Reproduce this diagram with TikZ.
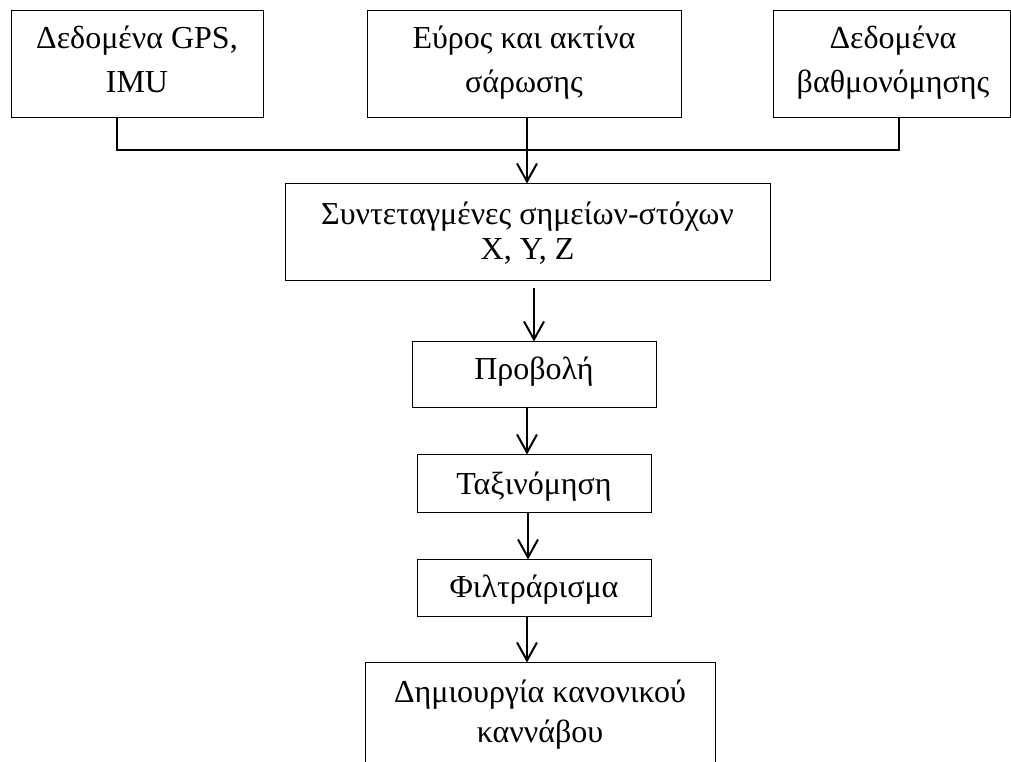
\documentclass[tikz,border=0pt]{standalone}
\usepackage{fontspec}
\setmainfont{Liberation Serif}
\usetikzlibrary{arrows.meta}
\newcommand{\twoline}[1]{\begin{tabular}[t]{@{}c@{}}#1\end{tabular}}
\begin{document}
\begin{tikzpicture}[x=0.75pt,y=-0.75pt,
  box/.style={draw, line width=0.75pt, inner sep=0pt},
  lbl/.style={inner sep=0pt, anchor=base, font=\fontsize{24}{33}\selectfont},
  conn/.style={line width=1.5pt},
  arr/.style={line width=1.5pt, -{Straight Barb[length=13.5pt,width=15pt]}}]
\useasboundingbox (0,0) rectangle (1011,762);
% boxes
\node[box, minimum width=189pt, minimum height=80.25pt] (b1) at (137,64.5) {};
\node[box, minimum width=235.5pt, minimum height=80.25pt] (b2) at (524,64.5) {};
\node[box, minimum width=177.75pt, minimum height=80.25pt] (b3) at (891.5,64.5) {};
\node[box, minimum width=363.75pt, minimum height=72.75pt] (b4) at (527.5,232.5) {};
\node[box, minimum width=183pt, minimum height=49.5pt] (b5) at (534,375) {};
\node[box, minimum width=175.5pt, minimum height=43.5pt] (b6) at (534,484) {};
\node[box, minimum width=175.5pt, minimum height=42.75pt] (b7) at (534,588.5) {};
\node[box, minimum width=262.5pt, minimum height=97.5pt] (b8) at (540,728) {};
% labels
\node[lbl] (t1) at (137,49) {\twoline{Δεδομένα GPS,\\IMU}};
\node[lbl] (t2) at (524,49) {\twoline{Εύρος και ακτίνα\\σάρωσης}};
\node[lbl] (t3) at (893,49) {\twoline{Δεδομένα\\βαθμονόμησης}};
\node[lbl, font=\fontsize{24}{26.25}\selectfont] (t4) at (527.5,225) {\twoline{Συντεταγμένες σημείων-στόχων\\X, Y, Z}};
\node[lbl] (t5) at (534,380) {Προβολή};
\node[lbl] (t6) at (534,495) {Ταξινόμηση};
\node[lbl] (t7) at (534,598) {Φιλτράρισμα};
\node[lbl, font=\fontsize{24}{30}\selectfont] (t8) at (540,703) {\twoline{Δημιουργία κανονικού\\καννάβου}};
% merge line
\coordinate (jl) at (117,150);
\coordinate (jr) at (899,150);
\coordinate (ja) at (527,150);
\draw[conn] (b1.south -| jl) -- (jl) -- (jr) -- (b3.south -| jr);
\draw[arr] (b2.south -| ja) -- (b4.north -| ja);
% chain
\draw[arr] ([yshift=-5.25pt]b4.south -| b5.north) -- (b5.north);
\draw[arr] ([xshift=-5.25pt]b5.south) -- ([xshift=-5.25pt]b6.north);
\draw[arr] ([xshift=-4.5pt]b6.south) -- ([xshift=-4.5pt]b7.north);
\draw[arr] ([xshift=-5.25pt]b7.south) -- ([xshift=-5.25pt]b7.south |- b8.north);
\end{tikzpicture}
\end{document}
